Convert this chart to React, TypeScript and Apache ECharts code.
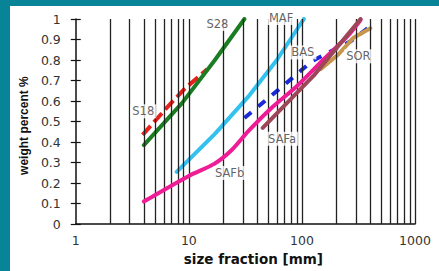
import React, { useEffect, useRef } from "react";
import * as echarts from "echarts";

// size fraction [mm] / weight fraction pairs
const s18: [number, number][] = [[3.9, 0.435], [6.7, 0.58], [9.2, 0.66], [14.5, 0.755]];
const s28: [number, number][] = [[4.0, 0.385], [8.7, 0.59], [17, 0.8], [31, 1.0]];
const maf: [number, number][] = [[7.8, 0.255], [17, 0.44], [33.4, 0.62], [60, 0.8], [104, 1.0]];
const bas: [number, number][] = [[31, 0.517], [61, 0.652], [124, 0.796], [269, 0.891], [417, 0.971]];
const safb: [number, number][] = [
  [4.0, 0.11], [10, 0.235], [16.9, 0.295], [23.8, 0.36], [33.4, 0.452],
  [53.5, 0.565], [91.6, 0.676], [156, 0.804], [252, 0.915], [330, 0.995],
];
const safa: [number, number][] = [[45, 0.469], [127, 0.724], [330, 1.0]];
const sor: [number, number][] = [[147, 0.756], [211, 0.828], [286, 0.909], [403, 0.955]];

// label anchors (data coordinates)
const seriesLabels: [number, number, string][] = [
  [3.95, 0.55, "S18"],
  [17.9, 0.976, "S28"],
  [65.5, 1.005, "MAF"],
  [102, 0.837, "BAS"],
  [316, 0.818, "SOR"],
  [66.8, 0.416, "SAFa"],
  [22.9, 0.249, "SAFb"],
];

// vertical grid lines of the log paper
const gridLineValues = [
  2, 3, 4, 5, 6, 7, 8, 9, 10,
  20, 30, 40, 50, 60, 70, 80, 90, 100,
  200, 300, 400, 500, 600, 700, 800, 900, 1000,
];

const WIDE = "DejaVu Sans, Verdana, sans-serif";
const NARROW = "Liberation Sans, Arial, sans-serif";

export default function App() {
  const ref = useRef<HTMLDivElement>(null);
  useEffect(() => {
    if (!ref.current) return;
    const chart = echarts.init(ref.current, null, { renderer: "svg" });
    const lineSeries = (
      name: string,
      data: [number, number][],
      color: string,
      z: number,
      dash?: number[],
      smooth: number | boolean = false
    ) => ({
      name,
      type: "line",
      data,
      z,
      showSymbol: false,
      symbol: "none",
      smooth,
      lineStyle: {
        color,
        width: 4,
        cap: dash ? "butt" : "round",
        type: dash ? dash : "solid",
      },
    });
    chart.setOption({
      animation: false,
      backgroundColor: "#ffffff",
      grid: { left: 63, right: 24, top: 13, bottom: 43 },
      xAxis: {
        type: "log",
        logBase: 10,
        min: 1,
        max: 1000,
        name: "size fraction [mm]",
        nameLocation: "middle",
        nameGap: 26,
        nameTextStyle: {
          fontFamily: WIDE,
          fontSize: 13.5,
          fontWeight: "bold",
          color: "#111",
          padding: [0, 0, 0, 16],
        },
        axisLine: { show: true, lineStyle: { color: "#111", width: 1.5 } },
        axisTick: { show: false },
        axisLabel: {
          fontFamily: WIDE,
          fontSize: 12.5,
          color: "#333",
          margin: 10,
          formatter: (v: number) => String(Math.round(v)),
        },
        splitLine: { show: false },
      },
      yAxis: [
        {
          type: "value",
          min: 0,
          max: 1,
          interval: 0.1,
          name: "weight percent %",
          nameLocation: "middle",
          nameGap: 45,
          nameTextStyle: {
            fontFamily: NARROW,
            fontSize: 12,
            fontWeight: "bold",
            color: "#111",
            padding: [0, 8, 0, 0],
          },
          axisLine: { show: true, lineStyle: { color: "#111", width: 1.5 } },
          axisTick: { show: true, length: 5, lineStyle: { color: "#111", width: 1.2 } },
          axisLabel: {
            fontFamily: WIDE,
            fontSize: 12.5,
            color: "#333",
            margin: 15,
            formatter: (v: number) => String(+v.toFixed(1)),
          },
          splitLine: { show: false },
        },
        {
          type: "value",
          min: 0,
          max: 1,
          interval: 0.1,
          position: "left",
          axisLine: { show: false },
          axisTick: { show: true, inside: true, length: 5, lineStyle: { color: "#111", width: 1.2 } },
          axisLabel: { show: false },
          splitLine: { show: false },
        },
      ],
      series: [
        {
          type: "line",
          data: [],
          z: 1,
          silent: true,
          markLine: {
            silent: true,
            symbol: ["none", "none"],
            label: { show: false },
            lineStyle: { color: "#222", width: 1.3, type: "solid" },
            data: gridLineValues.map((v) => ({ xAxis: v })),
          },
        },
        lineSeries("S18", s18, "#e8201c", 3, [12, 5]),
        lineSeries("S28", s28, "#1b7d22", 4),
        lineSeries("MAF", maf, "#33c1f0", 4),
        lineSeries("BAS", bas, "#1a2ad8", 3, [9, 9]),
        lineSeries("SOR", sor, "#c8964c", 4),
        lineSeries("SAFb", safb, "#ee1c95", 5, undefined, 0.3),
        lineSeries("SAFa", safa, "#9c4658", 5),
        {
          type: "scatter",
          z: 6,
          clip: false,
          silent: true,
          symbolSize: 1,
          itemStyle: { color: "rgba(0,0,0,0)" },
          data: seriesLabels.map(([x, y, n]) => ({ value: [x, y], name: n })),
          label: {
            show: true,
            position: "inside",
            formatter: (p: any) => p.name,
            fontFamily: WIDE,
            fontSize: 11.5,
            color: "#3a3a3a",
            backgroundColor: "#ffffff",
            padding: [1, 2],
          },
        },
      ],
    });
    return () => chart.dispose();
  }, []);
  return (
    <div
      style={{
        position: "fixed",
        left: 0,
        top: 0,
        width: 439,
        height: 271,
        background: "#078497",
      }}
    >
      <div
        ref={ref}
        style={{ position: "absolute", left: 10, top: 6, width: 429, height: 265 }}
      />
    </div>
  );
}
